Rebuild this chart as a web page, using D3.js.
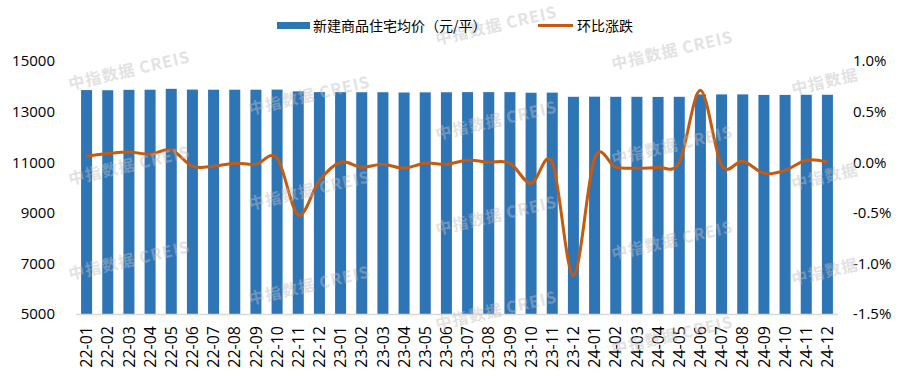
<!DOCTYPE html>
<html lang="zh">
<head>
<meta charset="utf-8">
<title>新建商品住宅均价</title>
<script src="https://d3js.org/d3.v7.min.js"></script>
<style>
  body { margin: 0; background: #fff; }
  text { font-family: "Noto Sans CJK SC", "Noto Sans", sans-serif; fill: #000; }
</style>
</head>
<body>
<svg id="chart" width="917" height="383"></svg>
<script>
const months = ["22-01","22-02","22-03","22-04","22-05","22-06","22-07","22-08","22-09","22-10","22-11","22-12",
  "23-01","23-02","23-03","23-04","23-05","23-06","23-07","23-08","23-09","23-10","23-11","23-12",
  "24-01","24-02","24-03","24-04","24-05","24-06","24-07","24-08","24-09","24-10","24-11","24-12"];
const prices = [13850,13845,13860,13865,13900,13870,13865,13865,13865,13870,13800,13770,
  13770,13765,13765,13755,13760,13765,13770,13770,13770,13745,13750,13585,
  13590,13585,13585,13580,13585,13680,13680,13680,13660,13660,13665,13665];
const changes = [0.06,0.085,0.10,0.08,0.12,-0.04,-0.04,-0.01,-0.02,0.04,-0.52,-0.18,
  0.00,-0.05,-0.02,-0.06,-0.01,-0.02,0.02,0.00,-0.01,-0.21,0.00,-1.12,
  0.04,-0.05,-0.06,-0.05,0.00,0.71,-0.03,0.01,-0.11,-0.08,0.02,0.00];
const leftTicks = [5000,7000,9000,11000,13000,15000];
const rightTicks = [-1.5,-1.0,-0.5,0.0,0.5,1.0];

const svg = d3.select("#chart");
const x0 = 76, x1 = 838, yTop = 61, yBot = 314;
const numFont = "Open Sans";

const x = d3.scaleBand().domain(months).range([x0, x1]).paddingInner(0.48).paddingOuter(0.24);
const yL = d3.scaleLinear().domain([5000, 15000]).range([yBot, yTop]);
const yR = d3.scaleLinear().domain([-1.5, 1.0]).range([yBot, yTop]);

// bars
svg.append("g").selectAll("rect").data(months).enter().append("rect")
  .attr("x", d => x(d))
  .attr("width", x.bandwidth())
  .attr("y", (d, i) => yL(prices[i]))
  .attr("height", (d, i) => yBot - yL(prices[i]))
  .attr("fill", "#2E75B6");

// axis line
svg.append("line").attr("x1", x0).attr("x2", x1).attr("y1", yBot + 0.5).attr("y2", yBot + 0.5)
  .attr("stroke", "#d9d9d9").attr("stroke-width", 1.5);

// left axis
const gl = svg.append("g").attr("transform", "translate(57,0)")
  .call(d3.axisLeft(yL).tickValues(leftTicks).tickSize(0).tickPadding(2).tickFormat(d3.format("d")));
gl.select(".domain").remove();
gl.selectAll("text").style("font-size", "15px").style("font-family", numFont);

// right axis
const gr = svg.append("g").attr("transform", "translate(851,0)")
  .call(d3.axisRight(yR).tickValues(rightTicks).tickSize(0).tickPadding(2).tickFormat(d => d.toFixed(1) + "%"));
gr.select(".domain").remove();
gr.selectAll("text").style("font-size", "15px").style("font-family", numFont);

// bottom axis
const gb = svg.append("g").attr("transform", `translate(0,${yBot})`)
  .call(d3.axisBottom(x).tickSize(0).tickPadding(0));
gb.select(".domain").remove();
gb.selectAll("text")
  .style("font-size", "16px").style("font-family", numFont)
  .attr("text-anchor", "end")
  .attr("transform", "rotate(-90)")
  .attr("x", -12).attr("y", 0).attr("dy", "0.35em");

// line
const line = d3.line()
  .x((d, i) => x(months[i]) + x.bandwidth() / 2)
  .y(d => yR(d))
  .curve(d3.curveCardinal.tension(0));
svg.append("path").datum(changes)
  .attr("d", line)
  .attr("fill", "none")
  .attr("stroke", "#C55A11")
  .attr("stroke-width", 3)
  .attr("stroke-linejoin", "round");

// watermark
const wm = svg.append("g").attr("pointer-events", "none");
const cols = [70, 250, 437, 613, 793];
cols.forEach((cx, ci) => {
  let base = 90 + ci * 25;
  while (base - 95 > 40) base -= 95;
  for (let by = base; by <= 372; by += 95) {
    wm.append("text")
      .attr("transform", `translate(${cx},${by}) rotate(-13)`)
      .style("font-size", "16px").style("font-weight", "bold")
      .style("fill", "#bfbfbf").style("opacity", 0.45)
      .style("letter-spacing", "1px")
      .text(ci === 4 ? "中指数据" : "中指数据  CREIS");
  }
});

// legend
const lg = svg.append("g");
lg.append("rect").attr("x", 277).attr("y", 22).attr("width", 33).attr("height", 7).attr("fill", "#2E75B6");
lg.append("text").attr("x", 313).attr("y", 26).attr("dy", "0.35em").style("font-size", "14px")
  .text("新建商品住宅均价（元/平）");
lg.append("line").attr("x1", 538).attr("x2", 573).attr("y1", 25.5).attr("y2", 25.5)
  .attr("stroke", "#C55A11").attr("stroke-width", 3);
lg.append("text").attr("x", 577).attr("y", 26).attr("dy", "0.35em").style("font-size", "14px")
  .text("环比涨跌");
</script>
</body>
</html>
